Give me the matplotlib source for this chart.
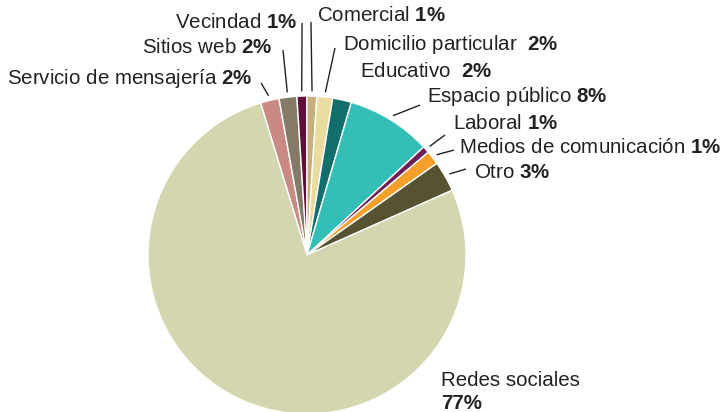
import numpy as np
import matplotlib
matplotlib.use("Agg")
import matplotlib.pyplot as plt

plt.rcParams['font.family'] = ['Liberation Sans', 'DejaVu Sans']
plt.rcParams['mathtext.fontset'] = 'custom'
plt.rcParams['mathtext.rm'] = 'Liberation Sans'
plt.rcParams['mathtext.bf'] = 'Liberation Sans:bold'

# data (clockwise from top-left)
categories = ["Servicio de mensajería", "Sitios web", "Vecindad", "Comercial",
              "Domicilio particular", "Educativo", "Espacio público", "Laboral",
              "Medios de comunicación", "Otro", "Redes sociales"]
values = [1.9, 1.8, 1.0, 1.0, 1.6, 1.9, 8.6, 0.7, 1.4, 3.1, 76.8]
pct_labels = ["2%", "2%", "1%", "1%", "2%", "2%", "8%", "1%", "1%", "3%", "77%"]
colors = ["#c98a84", "#857a68", "#5e0f3a", "#c4b07a", "#e8dca0", "#116e6b",
          "#33bfb7", "#6e1f5a", "#f5a02a", "#575232", "#d4d6b0"]

# label layout: text anchor, alignment, leader start (None = no leader)
text_pos = [(-0.346, 1.113, 'right'), (-0.220, 1.308, 'right'), (-0.063, 1.465, 'right'),
            (0.063, 1.509, 'left'), (0.226, 1.321, 'left'), (0.333, 1.157, 'left'),
            (0.755, 1.000, 'left'), (0.918, 0.824, 'left'), (0.956, 0.679, 'left'),
            (1.050, 0.522, 'left'), (0.843, -0.792, 'left')]
line_start = [(-0.289, 1.082), (-0.151, 1.289), (-0.031, 1.459), (0.025, 1.465),
              (0.176, 1.302), None, (0.711, 0.943), (0.868, 0.755), (0.925, 0.660),
              (1.000, 0.541), None]
seps = [" ", " ", " ", " ", "  ", "  ", " ", " ", " ", " ", "\n"]

fig = plt.figure(figsize=(7.28, 4.12), dpi=100)
ax = fig.add_axes([0, 0, 1, 1])
R = 159.0

start = 90 + 17.0
wedges, _ = ax.pie(values, colors=colors, startangle=start, counterclock=False,
                   radius=1.0, center=(0, 0), frame=True,
                   wedgeprops=dict(edgecolor='white', linewidth=1.0))
ax.set_xlim(-307 / R, (728 - 307) / R)
ax.set_ylim(-157 / R, (412 - 157) / R)
ax.set_aspect('equal')
ax.set_axis_off()

txtcol = "#222222"
fs = 14.8
for i, w in enumerate(wedges):
    ang = np.deg2rad((w.theta1 + w.theta2) / 2)
    tx, ty, ha = text_pos[i]
    if categories[i] == "Redes sociales":
        ax.text(tx, ty, categories[i], ha=ha, va='center', fontsize=fs, color=txtcol)
        ax.text(tx, ty - 0.139, pct_labels[i], ha=ha, va='center', fontsize=fs,
                color=txtcol, fontweight='bold')
        continue
    label = categories[i] + seps[i] + r"$\mathbf{" + pct_labels[i].replace('%', r'\%') + "}$"
    ax.text(tx, ty, label, ha=ha, va='center', fontsize=fs, color=txtcol)
    if line_start[i] is not None:
        ex, ey = 1.03 * np.cos(ang), 1.03 * np.sin(ang)
        sx, sy = line_start[i]
        ax.plot([sx, ex], [sy, ey], color="#222222", lw=1.0, solid_capstyle='butt')

fig.savefig("out.png", dpi=100)
